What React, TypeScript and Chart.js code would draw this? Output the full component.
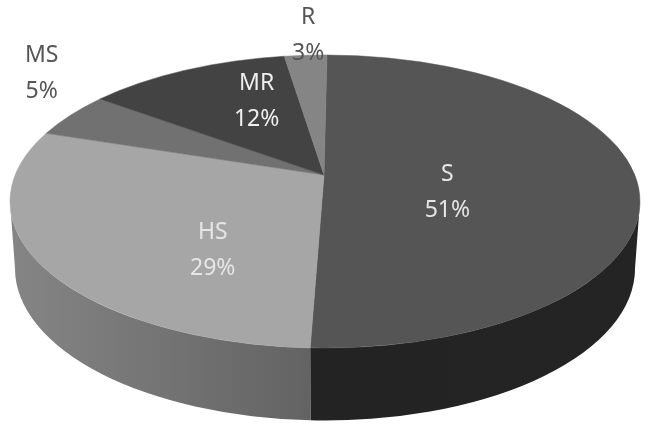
import React, { useEffect, useRef } from "react";
import { Chart, registerables } from "chart.js";

Chart.register(...registerables);

const categories = ["S", "HS", "MS", "MR", "R"];
const shares = [51, 29, 5, 12, 3];
const topColors = ["#555555", "#a6a6a6", "#717171", "#434343", "#858585"];
const wallStart = ["#232323", "#858585", "#555555", "#2c2c2c", "#606060"];
const wallEnd = ["#242424", "#636363", "#555555", "#2c2c2c", "#606060"];
const labelColors = ["#e6e6e6", "#e6e6e6", "#555555", "#efefef", "#555555"];
const labelOffsets = [[-35, -11], [18, 8], [-143, -95], [16, -38], [-2, -93]];

const RX = 315;
const RY = 146.5;
const TILT = -0.181;
const APEX_LIFT = -26.5;
const APEX_X = -1;
const BOW = 9;
const BASE_RX = 310;
const BASE_RY = 152;
const BASE_DROP = 67;

// Perspective view of a circle: a slice angle goes to a parameter on the rim ellipse.
function rimPoint(angle: number) {
  const u = Math.cos(angle);
  const v = Math.sin(angle);
  const d = 1 + TILT * v;
  const a = RX * Math.sqrt(1 - TILT * TILT);
  const taper = v < 0 ? Math.min(1, Math.abs(u) / 0.15) : 1;
  return { x: (a * u) / d + BOW * v * v * taper + (v < 0 ? 2 * (1 - taper) : 0), y: (RY * v + APEX_LIFT) / d };
}

function rimParam(angle: number) {
  const p = rimPoint(angle);
  let t = Math.atan2(p.y / RY, p.x / RX);
  if (t < -Math.PI / 2 - 0.05) t += Math.PI * 2;
  return t;
}

function drawFace(this: any, ctx: CanvasRenderingContext2D) {
  const color = this.options.backgroundColor;
  const a = rimParam(this.startAngle);
  let b = rimParam(this.endAngle);
  if (b < a) b += Math.PI * 2;
  ctx.save();
  ctx.fillStyle = color;
  ctx.strokeStyle = color;
  ctx.lineWidth = 0.5;
  ctx.beginPath();
  ctx.moveTo(this.x + APEX_X, this.y + APEX_LIFT);
  ctx.ellipse(this.x, this.y, RX, RY, 0, a, b, false);
  ctx.closePath();
  ctx.fill();
  ctx.stroke();
  ctx.restore();
}

const piePlugin = {
  id: "tiltedPie",
  afterDatasetsUpdate(chart: any) {
    chart.getDatasetMeta(0).data.forEach((arc: any) => {
      arc.draw = drawFace;
    });
  },
  beforeDatasetsDraw(chart: any) {
    const { ctx } = chart;
    chart.getDatasetMeta(0).data.forEach((arc: any, i: number) => {
      const a = Math.max(rimParam(arc.startAngle), 0);
      const b = Math.min(rimParam(arc.endAngle), Math.PI);
      if (b <= a) return;
      const g = ctx.createLinearGradient(arc.x + RX * Math.cos(b), 0, arc.x + RX * Math.cos(a), 0);
      g.addColorStop(0, wallStart[i]);
      g.addColorStop(1, wallEnd[i]);
      ctx.save();
      ctx.fillStyle = g;
      ctx.beginPath();
      ctx.ellipse(arc.x, arc.y, RX, RY, 0, a, b, false);
      ctx.ellipse(arc.x, arc.y + BASE_DROP, BASE_RX, BASE_RY, 0, b, a, true);
      ctx.closePath();
      ctx.fill();
      ctx.restore();
    });
  },
  afterDatasetsDraw(chart: any) {
    const { ctx } = chart;
    ctx.save();
    ctx.font = '23px "Noto Sans", sans-serif';
    ctx.textAlign = "center";
    ctx.textBaseline = "middle";
    chart.getDatasetMeta(0).data.forEach((arc: any, i: number) => {
      const mid = (arc.startAngle + arc.endAngle) / 2;
      const x = arc.x + 0.5 * RX * Math.cos(mid) + labelOffsets[i][0];
      const y = arc.y + 0.5 * RY * Math.sin(mid) + labelOffsets[i][1];
      ctx.fillStyle = labelColors[i];
      ctx.fillText(categories[i], x, y - 18);
      ctx.fillText(shares[i] + "%", x, y + 18);
    });
    ctx.restore();
  },
};

export default function App() {
  const ref = useRef<HTMLCanvasElement>(null);
  useEffect(() => {
    const chart = new Chart(ref.current as HTMLCanvasElement, {
      type: "pie",
      data: {
        labels: categories,
        datasets: [
          {
            data: shares,
            backgroundColor: topColors,
            borderWidth: 0,
            clip: false,
          } as any,
        ],
      },
      options: {
        responsive: false,
        animation: false,
        radius: RY,
        layout: { padding: { left: 2, bottom: 29 } },
        plugins: { legend: { display: false }, tooltip: { enabled: false } },
      } as any,
      plugins: [piePlugin],
    });
    return () => chart.destroy();
  }, []);
  return (
    <div style={{ position: "fixed", left: 0, top: 0, width: 648, height: 432, background: "#fff" }}>
      <canvas ref={ref} width={648} height={432} style={{ display: "block", width: 648, height: 432, filter: "blur(0.7px)" }} />
    </div>
  );
}
